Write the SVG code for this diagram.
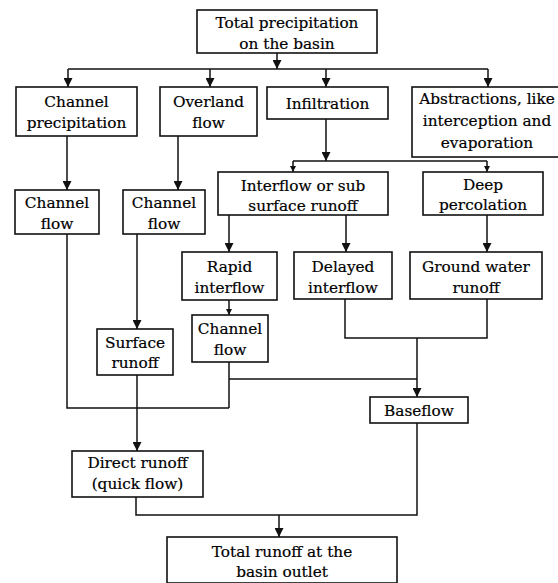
<svg xmlns="http://www.w3.org/2000/svg" width="558" height="583" viewBox="0 0 558 583">
  <style>
    .box { fill: #ffffff; stroke: #111111; stroke-width: 1.6; }
    .lbl { font-family: "DejaVu Serif", "Liberation Serif", serif; font-size: 15.3px; fill: #000000; stroke: #000000; stroke-width: 0.2; text-anchor: middle; }
    .wire { fill: none; stroke: #111111; stroke-width: 1.5; }
  </style>
  <defs>
    <marker id="arrow" viewBox="0 0 10 10" refX="10" refY="5" markerWidth="9" markerHeight="9" markerUnits="userSpaceOnUse" orient="auto">
      <path d="M0,0 L10,5 L0,10 z" fill="#111111"/>
    </marker>
    <marker id="arrowSmall" viewBox="0 0 10 10" refX="10" refY="5" markerWidth="6" markerHeight="6" markerUnits="userSpaceOnUse" orient="auto">
      <path d="M0,0 L10,5 L0,10 z" fill="#111111"/>
    </marker>
  </defs>
  <rect width="558" height="583" fill="#ffffff"/>

  <g id="connectors">
    <path class="wire" d="M277,53 V69" marker-end="url(#arrow)"/>
    <path class="wire" d="M68,69 H488"/>
    <path class="wire" d="M68,69 V87" marker-end="url(#arrow)"/>
    <path class="wire" d="M210,69 V87" marker-end="url(#arrow)"/>
    <path class="wire" d="M326,69 V87" marker-end="url(#arrow)"/>
    <path class="wire" d="M488,69 V87" marker-end="url(#arrow)"/>
    <path class="wire" d="M326,119 V161" marker-end="url(#arrow)"/>
    <path class="wire" d="M293,161 H487"/>
    <path class="wire" d="M293,161 V172" marker-end="url(#arrowSmall)"/>
    <path class="wire" d="M487,161 V172" marker-end="url(#arrowSmall)"/>
    <path class="wire" d="M67,136 V190" marker-end="url(#arrow)"/>
    <path class="wire" d="M178,136 V190" marker-end="url(#arrow)"/>
    <path class="wire" d="M229,215 V252" marker-end="url(#arrow)"/>
    <path class="wire" d="M346,215 V252" marker-end="url(#arrow)"/>
    <path class="wire" d="M487,215 V252" marker-end="url(#arrow)"/>
    <path class="wire" d="M229,300 V315" marker-end="url(#arrowSmall)"/>
    <path class="wire" d="M137,234 V329" marker-end="url(#arrow)"/>
    <path class="wire" d="M345,299 V338 H487 V299"/>
    <path class="wire" d="M417,338 V397" marker-end="url(#arrow)"/>
    <path class="wire" d="M229,362 V408"/>
    <path class="wire" d="M229,379 H417"/>
    <path class="wire" d="M67,234 V408 H229"/>
    <path class="wire" d="M137,375 V451" marker-end="url(#arrow)"/>
    <path class="wire" d="M136,497 V515 H417 V423"/>
    <path class="wire" d="M279,515 V537" marker-end="url(#arrow)"/>
  </g>

  <g id="total-precipitation">
    <rect class="box" x="197" y="10" width="180" height="43"/>
    <text class="lbl" x="287" y="28">Total precipitation</text>
    <text class="lbl" x="287" y="49">on the basin</text>
  </g>
  <g id="channel-precipitation">
    <rect class="box" x="16" y="87" width="121" height="49"/>
    <text class="lbl" x="76.5" y="107">Channel</text>
    <text class="lbl" x="76.5" y="128">precipitation</text>
  </g>
  <g id="overland-flow">
    <rect class="box" x="160" y="87" width="97" height="49"/>
    <text class="lbl" x="208.5" y="107">Overland</text>
    <text class="lbl" x="208.5" y="128">flow</text>
  </g>
  <g id="infiltration">
    <rect class="box" x="267" y="87" width="121" height="32"/>
    <text class="lbl" x="327.5" y="109">Infiltration</text>
  </g>
  <g id="abstractions">
    <rect class="box" x="412" y="87" width="152" height="70"/>
    <text class="lbl" x="487" y="104">Abstractions, like</text>
    <text class="lbl" x="487" y="126">interception and</text>
    <text class="lbl" x="487" y="148">evaporation</text>
  </g>
  <g id="interflow">
    <rect class="box" x="218" y="172" width="170" height="43"/>
    <text class="lbl" x="303" y="191">Interflow or sub</text>
    <text class="lbl" x="303" y="211">surface runoff</text>
  </g>
  <g id="deep-percolation">
    <rect class="box" x="423" y="172" width="120" height="43"/>
    <text class="lbl" x="483" y="190">Deep</text>
    <text class="lbl" x="483" y="210">percolation</text>
  </g>
  <g id="channel-flow-1">
    <rect class="box" x="15" y="190" width="84" height="44"/>
    <text class="lbl" x="57" y="208">Channel</text>
    <text class="lbl" x="57" y="229">flow</text>
  </g>
  <g id="channel-flow-2">
    <rect class="box" x="123" y="190" width="82" height="44"/>
    <text class="lbl" x="164" y="208">Channel</text>
    <text class="lbl" x="164" y="229">flow</text>
  </g>
  <g id="rapid-interflow">
    <rect class="box" x="182" y="252" width="95" height="48"/>
    <text class="lbl" x="229.5" y="272">Rapid</text>
    <text class="lbl" x="229.5" y="293">interflow</text>
  </g>
  <g id="delayed-interflow">
    <rect class="box" x="294" y="252" width="98" height="47"/>
    <text class="lbl" x="343" y="272">Delayed</text>
    <text class="lbl" x="343" y="293">interflow</text>
  </g>
  <g id="ground-water-runoff">
    <rect class="box" x="410" y="252" width="132" height="47"/>
    <text class="lbl" x="476" y="272">Ground water</text>
    <text class="lbl" x="476" y="293">runoff</text>
  </g>
  <g id="channel-flow-3">
    <rect class="box" x="192" y="315" width="76" height="47"/>
    <text class="lbl" x="230" y="334">Channel</text>
    <text class="lbl" x="230" y="355">flow</text>
  </g>
  <g id="surface-runoff">
    <rect class="box" x="97" y="329" width="76" height="46"/>
    <text class="lbl" x="135" y="348">Surface</text>
    <text class="lbl" x="135" y="368">runoff</text>
  </g>
  <g id="baseflow">
    <rect class="box" x="370" y="397" width="98" height="26"/>
    <text class="lbl" x="419" y="416">Baseflow</text>
  </g>
  <g id="direct-runoff">
    <rect class="box" x="72" y="451" width="131" height="46"/>
    <text class="lbl" x="137.5" y="468">Direct runoff</text>
    <text class="lbl" x="137.5" y="489">(quick flow)</text>
  </g>
  <g id="total-runoff">
    <rect class="box" x="167" y="537" width="230" height="46"/>
    <text class="lbl" x="282" y="557">Total runoff at the</text>
    <text class="lbl" x="282" y="577">basin outlet</text>
  </g>
</svg>
